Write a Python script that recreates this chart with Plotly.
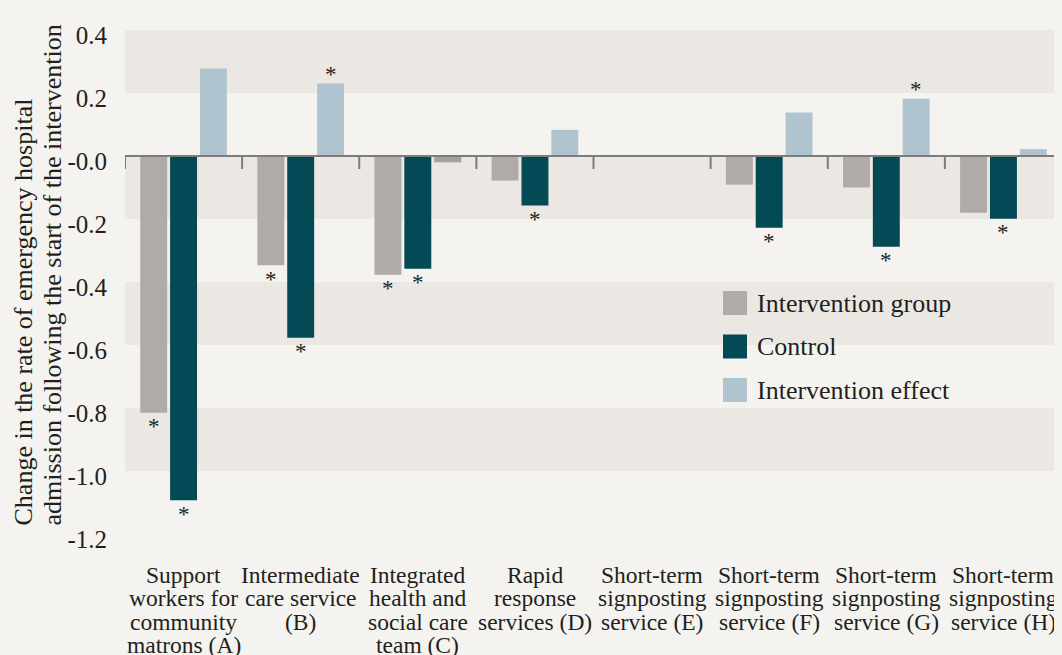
import plotly.graph_objects as go

# ---------------- data ----------------
categories = ["A", "B", "C", "D", "E", "F", "G", "H"]
category_labels = [
    ["Support", "workers for", "community", "matrons (A)"],
    ["Intermediate", "care service", "(B)"],
    ["Integrated", "health and", "social care", "team (C)"],
    ["Rapid", "response", "services (D)"],
    ["Short-term", "signposting", "service (E)"],
    ["Short-term", "signposting", "service (F)"],
    ["Short-term", "signposting", "service (G)"],
    ["Short-term", "signposting", "service (H)"],
]
intervention_group = [-0.815, -0.347, -0.377, -0.078, None, -0.091, -0.100, -0.180]
control = [-1.093, -0.577, -0.358, -0.157, None, -0.228, -0.288, -0.199]
intervention_effect = [0.278, 0.230, -0.020, 0.083, None, 0.138, 0.182, 0.022]

intervention_sig = [1, 1, 1, 0, 0, 0, 0, 0]
control_sig = [1, 1, 1, 1, 0, 1, 1, 1]
effect_sig = [0, 1, 0, 0, 0, 0, 1, 0]

y_ticks = [-1.2, -1.0, -0.8, -0.6, -0.4, -0.2, 0.0, 0.2, 0.4]
y_tick_labels = ["-1.2", "-1.0", "-0.8", "-0.6", "-0.4", "-0.2", "-0.0", "0.2", "0.4"]

series_names = ["Intervention group", "Control", "Intervention effect"]

# ---------------- style ----------------
FONT = "Liberation Serif, Times New Roman, Tinos, DejaVu Serif, serif"
TEXT = "#231f20"
C_INT = "#b0aba8"
C_CTL = "#034a56"
C_EFF = "#b0c4d0"
C_NEG_EFF = "#a1a1a1"
BG = "#f4f3ef"
BAND = "#ebe8e3"
AXIS = "#7e7c79"

# page body has an 8px margin; figure is sized to fill the rest of the window
OFF = 8
W, H = 1062 - OFF, 655 - OFF
ML, MR, MT, MB = 125 - OFF, 0, 30 - OFF, 121
PW = W - ML - MR

bar_w = 0.23
centers = [-0.255, 0.0, 0.255]
x_idx = list(range(len(categories)))

fig = go.Figure()

series = [intervention_group, control, intervention_effect]
colors = [
    [C_INT] * len(categories),
    [C_CTL] * len(categories),
    [C_EFF if (v is not None and v >= 0) else C_NEG_EFF for v in intervention_effect],
]
for s, name, col, c in zip(series, series_names, colors, centers):
    fig.add_trace(go.Bar(
        x=x_idx, y=s, name=name, width=bar_w, offset=c - bar_w / 2,
        marker=dict(color=col, line=dict(width=0)), showlegend=False,
        hovertemplate=name + ": %{y}<extra></extra>",
    ))

annotations = []
# significance asterisks
for s, sig, c in zip(series, [intervention_sig, control_sig, effect_sig], centers):
    for i, (v, f) in enumerate(zip(s, sig)):
        if f and v is not None:
            annotations.append(dict(
                x=i + c, y=v, xref="x", yref="y", text="*", showarrow=False,
                font=dict(family=FONT, size=23, color=TEXT),
                yanchor="middle", yshift=(-14 if v < 0 else 9),
            ))

# category labels (one annotation per line for tight leading)
for i, lines in enumerate(category_labels):
    for k, line in enumerate(lines):
        annotations.append(dict(
            x=i, y=0, xref="x", yref="paper", text=line, showarrow=False,
            font=dict(family=FONT, size=23.5, color=TEXT),
            xanchor="center", yanchor="middle", yshift=-41 - 23.3 * k,
        ))

# y-axis title (two lines, bottom aligned)
title_lines = ["Change in the rate of emergency hospital",
               "admission following the start of the intervention"]
for k, line in enumerate(title_lines):
    annotations.append(dict(
        x=0, y=0, xref="paper", yref="paper", text=line, showarrow=False,
        textangle=-90, font=dict(family=FONT, size=26, color=TEXT),
        xanchor="center", yanchor="bottom", xshift=-102 + 29 * k, yshift=6,
    ))

# manual legend
legend_colors = [C_INT, C_CTL, C_EFF]
shapes = []
for k, (name, col) in enumerate(zip(series_names, legend_colors)):
    yc = -(303 - 30) - 43.5 * k  # pixel offset from top of plot area
    shapes.append(dict(
        type="rect", xref="paper", yref="paper", xsizemode="pixel", ysizemode="pixel",
        xanchor=(723 - 125) / PW, yanchor=1,
        x0=0, x1=24, y0=yc - 12, y1=yc + 12,
        fillcolor=col, line=dict(width=0), layer="above",
    ))
    annotations.append(dict(
        x=(755 - 125) / PW, y=1, xref="paper", yref="paper", text=name,
        showarrow=False, font=dict(family=FONT, size=26, color=TEXT),
        xanchor="left", yanchor="middle", yshift=yc,
    ))

# alternating background bands (darker between 0.4-0.2, 0- -0.2, ...)
for j in range(len(y_ticks) - 1, 0, -2):
    shapes.append(dict(
        type="rect", xref="paper", yref="y", x0=0, x1=1,
        y0=y_ticks[j - 1], y1=y_ticks[j], fillcolor=BAND, line=dict(width=0), layer="below",
    ))

# zero axis line and boundary ticks
shapes.append(dict(type="line", xref="paper", yref="y", x0=0, x1=1, y0=0, y1=0,
                   line=dict(color=AXIS, width=2), layer="above"))
for i in range(len(categories) + 1):
    shapes.append(dict(
        type="line", xref="x", yref="y", ysizemode="pixel", yanchor=0,
        x0=i - 0.5, x1=i - 0.5, y0=0, y1=-13,
        line=dict(color=AXIS, width=2), layer="above",
    ))

fig.update_layout(
    width=W, height=H,
    margin=dict(l=ML, r=MR, t=MT, b=MB, pad=0),
    paper_bgcolor=BG, plot_bgcolor=BG,
    barmode="overlay",
    font=dict(family=FONT, color=TEXT),
    xaxis=dict(range=[-0.5, len(categories) - 0.5], showticklabels=False, ticks="",
               showgrid=False, zeroline=False, showline=False, fixedrange=True),
    yaxis=dict(range=[y_ticks[0], y_ticks[-1]], tickvals=y_ticks, ticktext=y_tick_labels,
               showgrid=False, zeroline=False, showline=False, ticks="",
               tickfont=dict(family=FONT, size=25, color=TEXT),
               ticklabelstandoff=17, ticklabelshift=5, fixedrange=True),
    annotations=annotations,
    shapes=shapes,
    showlegend=False,
)

fig.write_html("out.html", post_script="document.body.style.backgroundColor='" + BG + "';")
